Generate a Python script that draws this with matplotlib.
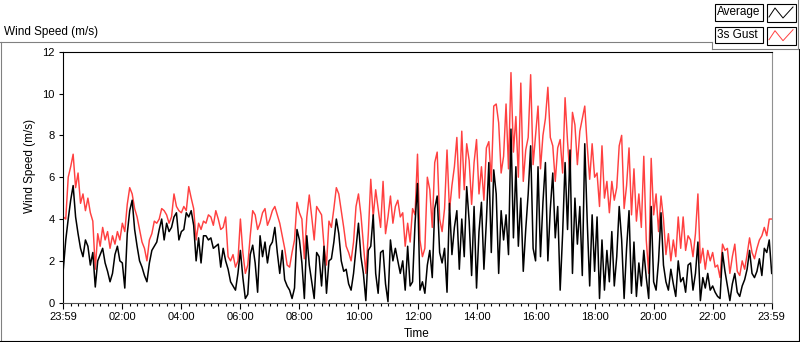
import numpy as np
import matplotlib.pyplot as plt
from matplotlib.lines import Line2D
from matplotlib.patches import Rectangle

plt.rcParams['font.family'] = ['Liberation Sans', 'DejaVu Sans']

# one sample every 5 minutes (m/s)
step_minutes = 5

gust = [
    4.1, 4.0, 6.0, 6.5, 7.1, 5.5, 6.2, 4.75, 5.2, 4.4, 5.0, 4.3,
    3.9, 1.6, 3.3, 2.7, 3.6, 3.0, 3.4, 2.6, 3.2, 2.8, 3.4, 3.0,
    3.8, 3.4, 4.7, 5.5, 5.2, 4.5, 4.1, 3.5, 2.9, 2.6, 2.0, 3.0,
    3.3, 3.9, 3.8, 4.0, 4.5, 4.4, 4.2, 3.8, 4.1, 5.2, 4.6, 4.4,
    4.3, 4.6, 4.4, 5.55, 5.0, 4.5, 3.0, 3.8, 3.5, 3.9, 3.8, 4.2,
    4.1, 3.7, 4.4, 4.0, 3.5, 3.6, 4.1, 2.2, 2.0, 2.3, 1.7, 2.0,
    4.0, 2.4, 1.4, 1.8, 3.2, 4.4, 4.2, 3.5, 3.8, 4.3, 4.5, 3.7,
    4.0, 4.4, 4.6, 4.2, 3.8, 3.2, 2.6, 1.8, 1.7, 2.4, 3.0, 4.8,
    4.3, 4.0, 2.1, 4.1, 5.15, 4.1, 3.0, 4.6, 4.4, 4.2, 2.7, 1.8,
    3.9, 3.6, 4.5, 5.5, 5.2, 4.4, 3.6, 2.7, 2.4, 2.0, 2.9, 4.6,
    5.2, 4.2, 2.8, 1.4, 3.3, 5.9, 4.1, 5.4, 4.5, 3.6, 5.8, 3.3,
    4.1, 5.1, 3.8, 4.6, 4.9, 4.1, 4.3, 2.7, 3.8, 2.9, 4.5, 4.2,
    7.1, 3.0, 2.2, 2.6, 6.0, 5.4, 3.6, 6.7, 7.2, 4.0, 3.4, 4.5,
    7.3, 4.4, 5.6, 6.5, 7.9, 5.0, 8.2, 5.4, 7.6, 6.8, 4.7, 6.7,
    7.8, 5.2, 6.5, 4.9, 7.4, 7.7, 5.8, 9.4, 9.5, 8.6, 6.2, 7.0,
    9.5, 6.4, 11.0, 7.2, 8.9, 6.0, 10.5, 5.8, 7.3, 7.9, 10.9, 6.6,
    8.0, 9.4, 6.4, 8.0, 8.8, 10.3, 7.9, 7.5, 5.8, 7.4, 7.8, 6.2,
    9.8, 7.7, 6.0, 9.1, 8.5, 6.6, 8.2, 8.8, 9.4, 7.5, 5.9, 7.6,
    6.0, 6.2, 4.6, 7.5, 5.0, 5.8, 4.3, 5.8, 4.9, 5.5, 7.5, 8.0,
    4.5, 5.6, 7.4, 4.2, 6.4, 3.9, 5.2, 3.6, 7.0, 3.0, 1.4, 6.9,
    4.2, 5.2, 3.4, 5.1, 4.0, 2.3, 3.3, 2.0, 3.0, 2.2, 4.1, 2.6,
    4.1, 2.5, 3.2, 3.0, 2.2, 3.3, 5.2, 1.9, 2.6, 1.6, 2.5, 2.0,
    2.4, 1.7, 1.8, 1.2, 2.8, 2.5, 2.6, 1.4, 2.2, 2.8, 1.5, 1.3,
    2.0, 1.6, 2.3, 3.1, 2.4, 2.1, 2.6, 3.0, 3.2, 3.6, 3.2, 4.0,
    4.0,
]

average = [
    1.6, 3.0, 4.0, 4.9, 5.6, 4.1, 3.3, 2.6, 2.2, 3.0, 2.7, 1.8,
    2.4, 0.75, 2.0, 2.3, 2.6, 1.9, 1.5, 1.0, 1.4, 2.3, 2.7, 2.0,
    1.9, 0.7, 3.3, 4.4, 4.9, 3.5, 2.7, 2.0, 1.7, 1.3, 1.0, 1.9,
    2.5, 2.7, 2.9, 3.5, 4.0, 3.0, 3.8, 3.4, 3.6, 4.1, 4.3, 3.0,
    3.4, 3.5, 4.3, 4.1, 4.4, 3.7, 2.0, 3.1, 1.9, 3.2, 3.2, 3.0,
    3.1, 2.6, 2.7, 2.8, 1.7, 2.6, 2.0, 1.6, 1.0, 0.8, 0.6, 1.4,
    2.5, 1.2, 0.2, 0.4, 2.3, 2.75, 1.9, 0.5, 3.2, 2.2, 2.9, 1.9,
    2.7, 2.9, 3.6, 2.4, 1.4, 2.5, 1.1, 0.8, 0.6, 0.2, 0.7, 3.5,
    3.0, 1.9, 0.2, 3.2, 1.8, 1.0, 0.2, 2.4, 2.2, 0.8, 2.7, 0.45,
    2.0, 2.1, 2.9, 4.0, 3.3, 2.0, 1.5, 1.6, 0.9, 0.6, 1.4, 2.6,
    3.8, 2.2, 1.4, 0.1, 2.5, 2.7, 4.2, 1.4, 0.45, 2.4, 2.5, 0.9,
    0.05, 3.0, 2.0, 2.6, 2.0, 1.4, 2.0, 0.6, 2.7, 0.8, 1.0, 3.8,
    5.7, 0.6, 1.0, 0.45, 1.8, 2.5, 1.2, 4.5, 5.1, 2.4, 1.9, 2.6,
    0.5, 4.75, 2.3, 3.6, 4.4, 1.6, 4.0, 2.2, 5.55, 3.9, 1.3, 4.6,
    0.7, 3.4, 4.8, 1.6, 3.9, 6.7, 2.4, 6.35, 5.2, 1.4, 4.4, 3.0,
    4.2, 2.3, 8.3, 3.1, 6.5, 2.7, 5.0, 1.5, 3.5, 5.2, 7.5, 2.6,
    2.0, 6.5, 2.2, 4.8, 6.7, 2.0, 4.5, 6.2, 3.1, 4.6, 0.6, 3.3,
    6.7, 3.5, 7.3, 1.4, 5.0, 2.8, 4.6, 1.3, 7.6, 3.9, 0.8, 4.2,
    1.5, 4.1, 0.2, 3.0, 0.6, 2.5, 1.0, 3.4, 0.8, 2.2, 4.6, 3.0,
    0.2, 2.6, 4.4, 0.45, 2.9, 0.3, 1.9, 0.8, 2.5, 1.2, 0.2, 4.6,
    1.0, 0.6, 2.0, 4.3, 1.8, 1.0, 0.6, 1.6, 0.9, 0.3, 2.0, 1.0,
    1.2, 0.5, 1.8, 1.9, 0.6, 1.4, 2.9, 0.1, 1.2, 0.7, 1.4, 0.6,
    0.8, 0.5, 0.3, 0.2, 2.4, 1.5, 0.8, 0.1, 0.9, 1.4, 0.5, 0.3,
    0.8, 1.1, 1.6, 2.5, 1.4, 1.2, 1.5, 2.1, 1.3, 2.6, 2.4, 3.0,
    1.4,
]

x_labels = ['23:59', '02:00', '04:00', '06:00', '08:00', '10:00', '12:00',
            '14:00', '16:00', '18:00', '20:00', '22:00', '23:59']
y_ticks = [0, 2, 4, 6, 8, 10, 12]
series_names = ['Average', '3s Gust']
series_colors = ['black', '#ff4040']

W, H = 800, 342


def fx(px):
    return px / W


def fy(py):
    return 1 - py / H


def frame_line(fig, x0, y0, x1, y1, color):
    fig.add_artist(Line2D([fx(x0), fx(x1)], [fy(y0), fy(y1)],
                          transform=fig.transFigure, color=color, lw=0.8))


def legend_row(fig, top, name, color):
    # name box
    fig.add_artist(Rectangle((fx(715), fy(top + 16.5)), 47.5 / W, 16.5 / H,
                             transform=fig.transFigure, facecolor='white',
                             edgecolor='black', lw=0.8))
    fig.text(fx(717), fy(top + 8.5), name, fontsize=8.5, va='center', ha='left')
    # line swatch box
    fig.add_artist(Rectangle((fx(767), fy(top + 18)), 29 / W, 18 / H,
                             transform=fig.transFigure, facecolor='white',
                             edgecolor='black', lw=0.8))
    zx = [769, 775, 783, 793]
    zy = [top + 13, top + 4, top + 14, top + 3]
    fig.add_artist(Line2D([fx(v) for v in zx], [fy(v) for v in zy],
                          transform=fig.transFigure, color=color, lw=0.7))


def plot_chart():
    hours = np.arange(len(gust)) * step_minutes / 60.0

    fig = plt.figure(figsize=(W / 100, H / 100), dpi=100)
    ax = fig.add_axes([fx(63.3), fy(302.7), (771.7 - 63.3) / W, (302.7 - 51.7) / H])

    ax.plot(hours, gust, color=series_colors[1], lw=1.05)
    ax.plot(hours, average, color=series_colors[0], lw=1.1)

    ax.set_xlim(0, 24)
    ax.set_ylim(0, 12)
    ax.set_xticks(np.arange(0, 25, 2))
    ax.set_xticklabels(x_labels)
    ax.set_xticks(np.arange(0, 24.01, 0.25), minor=True)
    ax.set_yticks(y_ticks)
    ax.set_yticklabels([str(v) for v in y_ticks])
    ax.tick_params(axis='x', which='major', length=4, width=0.8, pad=3, labelsize=8)
    ax.tick_params(axis='x', which='minor', length=2.5, width=0.8)
    ax.tick_params(axis='y', which='major', length=3, width=0.8, pad=3, labelsize=8)

    for side in ['left', 'top']:
        ax.spines[side].set_color('black')
    ax.spines['bottom'].set_color('#505050')
    ax.spines['right'].set_color('#909090')
    for s in ax.spines.values():
        s.set_linewidth(0.8)

    # texts around the plot
    fig.text(fx(4), fy(32), 'Wind Speed (m/s)', fontsize=8.5, va='center', ha='left')
    fig.text(fx(30.5), fy(166), 'Wind Speed (m/s)', fontsize=8.5, rotation=90,
             va='center', ha='center')
    fig.text(fx(417), fy(334), 'Time', fontsize=8.5, va='center', ha='center')

    # panel frame
    frame_line(fig, 0, 42.3, 711.7, 42.3, '#808080')
    frame_line(fig, 0.5, 42.3, 0.5, 342, '#808080')
    frame_line(fig, 0, 340.8, 800, 340.8, 'black')
    frame_line(fig, 799.3, 49, 799.3, 342, 'black')
    frame_line(fig, 711.7, 42.3, 711.7, 49, '#808080')
    frame_line(fig, 711.7, 49, 798.3, 49, '#808080')
    frame_line(fig, 798.3, 0, 798.3, 49, '#808080')

    legend_row(fig, 4, series_names[0], series_colors[0])
    legend_row(fig, 26.7, series_names[1], series_colors[1])

    fig.savefig('out.png', dpi=100)


if __name__ == '__main__':
    plot_chart()
